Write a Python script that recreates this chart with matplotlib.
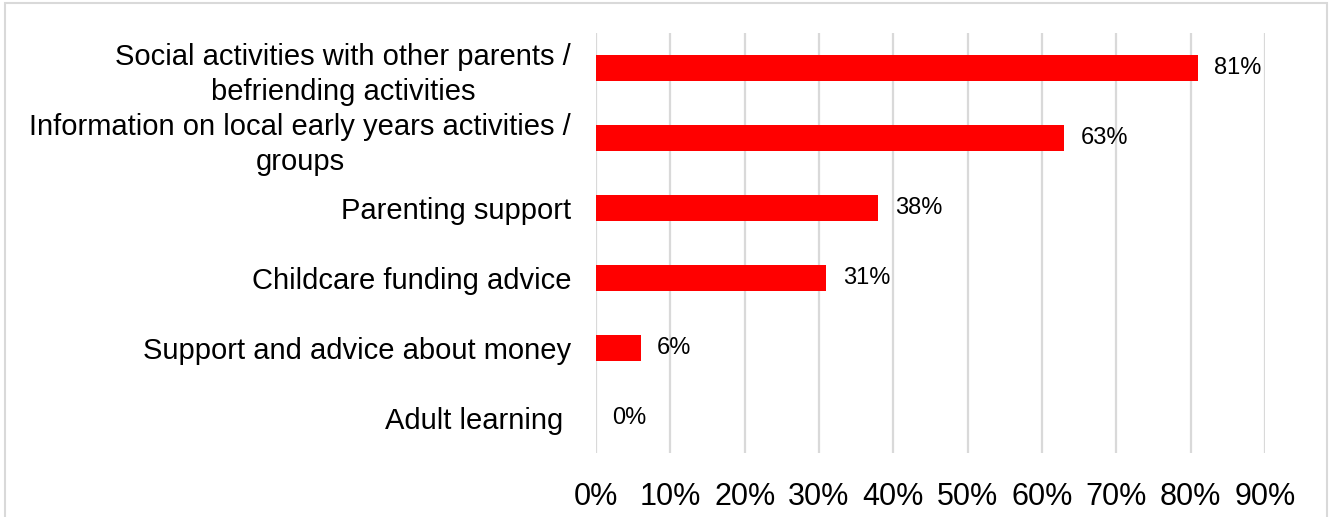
import matplotlib.pyplot as plt
from matplotlib.patches import Rectangle
from matplotlib.ticker import FuncFormatter

categories = [
    "Social activities with other parents /\nbefriending activities",
    "Information on local early years activities /\ngroups",
    "Parenting support",
    "Childcare funding advice",
    "Support and advice about money",
    "Adult learning ",
]
shares = [81, 63, 38, 31, 6, 0]
ticks = [0, 10, 20, 30, 40, 50, 60, 70, 80, 90]

plt.rcParams['font.family'] = ['Liberation Sans', 'DejaVu Sans']

fig = plt.figure(figsize=(13.31, 5.17), dpi=100)
ax = fig.add_axes([596 / 1331, 1 - 453 / 517, (1265 - 596) / 1331, 420 / 517])

pos = list(range(len(categories)))[::-1]
ax.barh(pos, shares, height=0.36, color='#ff0000', zorder=3)
for p, v in zip(pos, shares):
    ax.text(v + 2.2, p, f"{v}%", va='center', ha='left', fontsize=17, color='#000000')

ax.set_xlim(0, 90)
ax.set_ylim(-0.5, len(categories) - 0.5)
ax.set_xticks(ticks)
ax.xaxis.set_major_formatter(FuncFormatter(lambda x, _: f"{x:.0f}%"))
ax.set_yticks(pos)
ax.set_yticklabels(categories, ha='right', multialignment='center', linespacing=1.3)
ax.tick_params(axis='y', length=0, pad=18, labelsize=21)
ax.tick_params(axis='x', length=0, pad=21, labelsize=22)
ax.grid(axis='x', color='#d9d9d9', linewidth=1.6, zorder=0)
for s in ax.spines.values():
    s.set_visible(False)

# light frame around the chart area
fig.patches.append(Rectangle((5 / 1331, -0.1), 1322 / 1331, 1.1 - 3 / 517,
                             transform=fig.transFigure, fill=False,
                             edgecolor='#d9d9d9', linewidth=1.5))

fig.savefig('out.png', dpi=100)
